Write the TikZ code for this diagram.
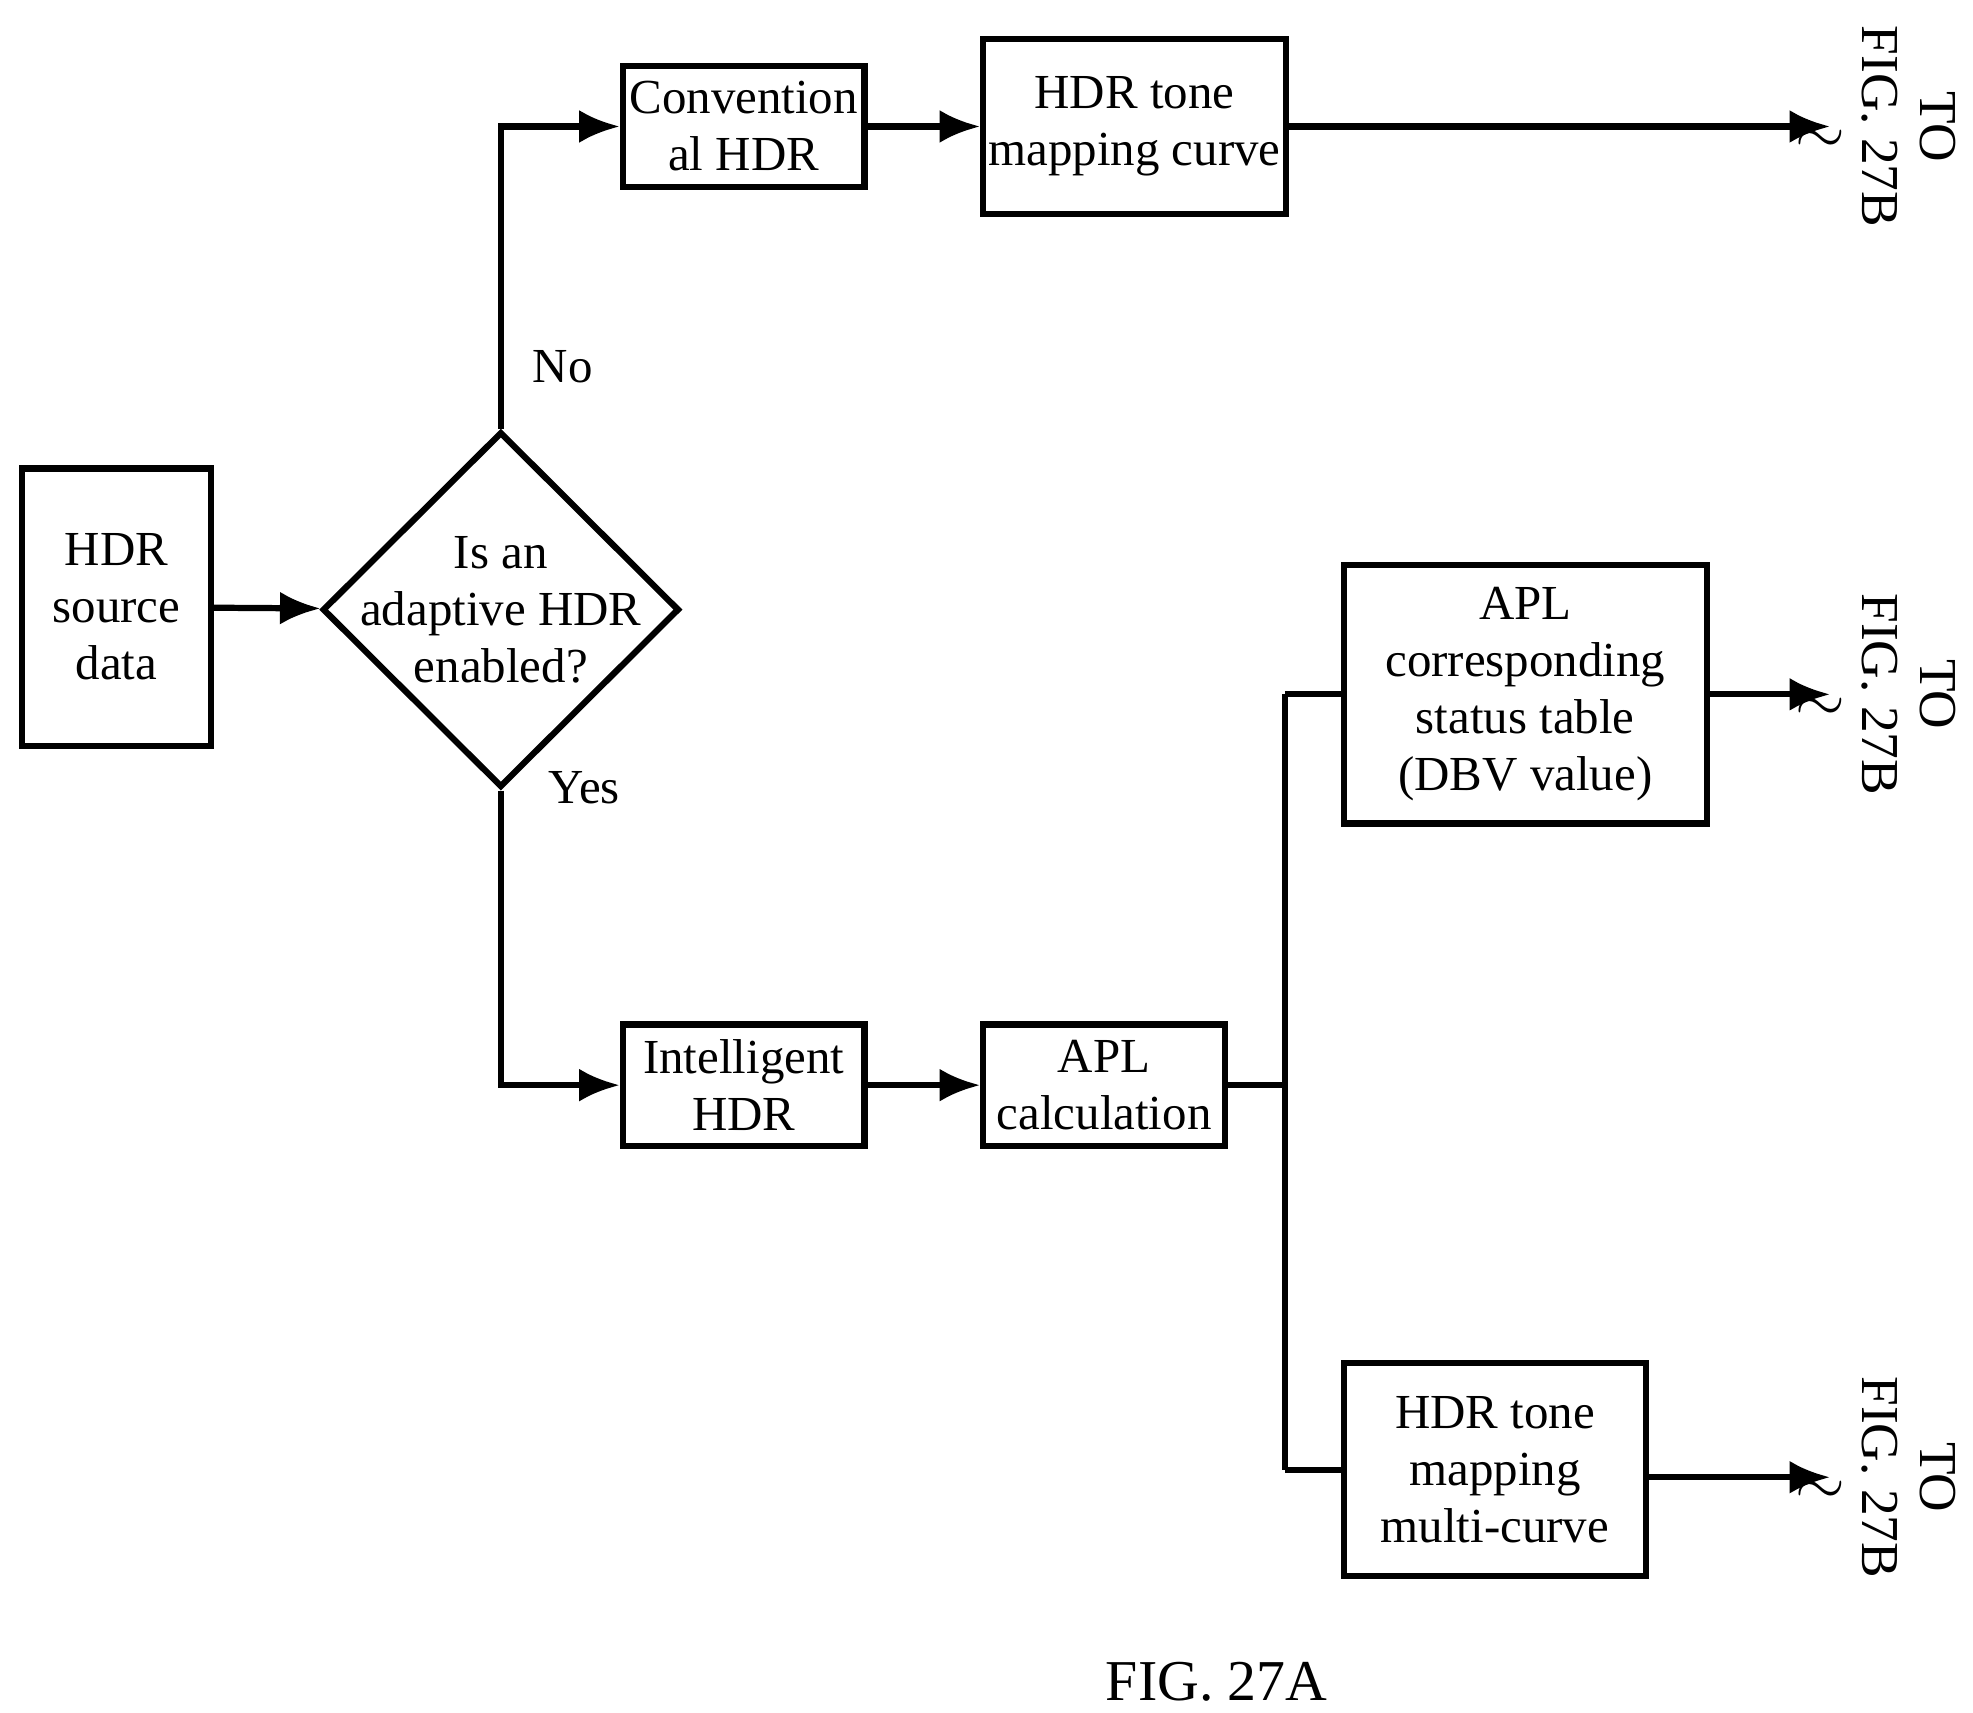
\documentclass[tikz,border=0pt]{standalone}
\usepackage{fontspec}
\setmainfont{Liberation Serif}
\usetikzlibrary{arrows.meta,shapes.geometric,positioning}
\tikzset{
  blk/.style={draw,line width=1.4pt,align=center,inner sep=1pt,font=\fontsize{11}{12.8}\selectfont},
  dec/.style={draw,diamond,line width=1.4pt,minimum width=2.82cm,minimum height=2.81cm,inner sep=0pt},
  flow/.style={line width=1.4pt,-{Latex[length=3.2mm,width=2.6mm]}},
  lnk/.style={line width=1.4pt},
  lbl/.style={font=\fontsize{11}{12.8}\selectfont}
}
\begin{document}
\begin{tikzpicture}[x=0.01cm,y=-0.01cm]
	\useasboundingbox (0,0) rectangle (1560,1354);
	\node [blk,minimum width=1.49cm,minimum height=2.19cm] (src) at (92,480) {HDR\\source\\data};
	\node [dec] (ask) at (396,482) {};
	\node [lbl,align=center] (askt) at (ask) {Is an\\adaptive HDR\\enabled?};
	\node [blk,minimum width=1.91cm,minimum height=0.96cm] (conv) at (588,100) {Convention\\al HDR};
	\node [blk,minimum width=2.39cm,minimum height=1.38cm] (curve) at (897,100) {HDR tone\\mapping curve};
	\node [blk,minimum width=1.91cm,minimum height=0.96cm] (intel) at (588,858) {Intelligent\\HDR};
	\node [blk,minimum width=1.91cm,minimum height=0.96cm] (apl) at (873,858) {APL\\calculation};
	\node [blk,minimum width=2.87cm,minimum height=2.04cm] (table) at (1206,549) {APL\\corresponding\\status table\\(DBV value)};
	\node [blk,minimum width=2.39cm,minimum height=1.68cm] (multi) at (1182,1162) {HDR tone\\mapping\\multi-curve};
	\coordinate (split) at (1016,862);
	\coordinate (end1) at (1447,100);
	\coordinate (end2) at (1447,549);
	\coordinate (end3) at (1447,1168);
	% connectors
	\draw [flow] (src) -- (ask);
	\draw [flow] (ask.north) |- (conv);
	\draw [flow] (conv) -- (curve);
	\draw [flow] (curve) -- (end1);
	\draw [flow] (ask.south) |- (intel);
	\draw [flow] (intel) -- (apl);
	\draw [lnk] (apl.east) -- (apl.east -| split);
	\draw [lnk] (split |- table.west) -- (split |- multi.west);
	\draw [lnk] (split |- table.west) -- (table.west);
	\draw [lnk] (split |- multi.west) -- (multi.west);
	\draw [flow] (table) -- (end2);
	\draw [flow] (multi.east |- end3) -- (end3);
	% labels
	\node [lbl] (no) at (445,290) {No};
	\node [lbl] (yes) at (462,623) {Yes};
	\foreach \e in {end1,end2,end3} {
		\node [lbl,font=\fontsize{14}{14}\selectfont] at ([xshift=-0.08cm,yshift=-0.12cm]\e) {$\sim$};
		\node [lbl,rotate=-90,align=center,font=\fontsize{12}{13}\selectfont] at ([xshift=0.62cm]\e) {TO\\FIG. 27B};
	}
	\node [font=\fontsize{13}{15}\selectfont] (cap) at (962,1330) {FIG. 27A};
\end{tikzpicture}
\end{document}
